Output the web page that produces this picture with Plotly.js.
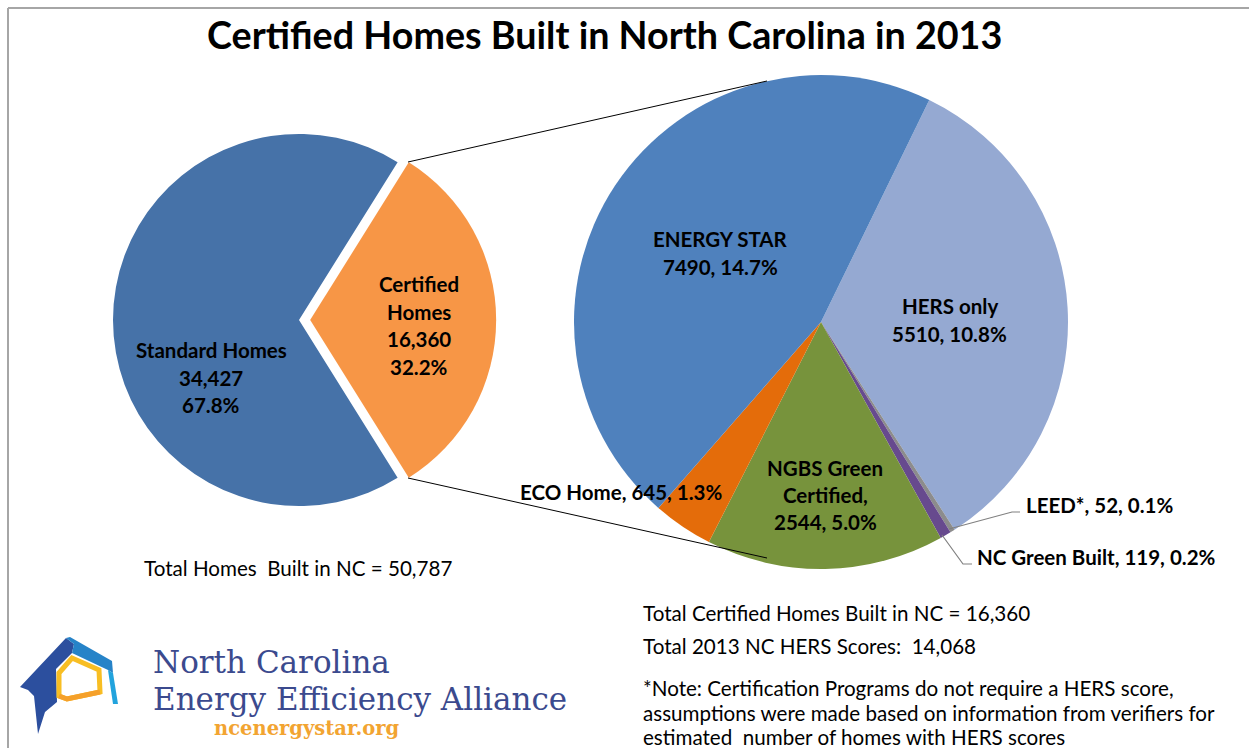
<!DOCTYPE html>
<html>
<head>
<meta charset="utf-8">
<script src="https://cdn.plot.ly/plotly-3.0.1.min.js"></script>
<style>html,body{margin:0;padding:0;background:#fff;}#chart{width:1249px;height:748px;}</style>
</head>
<body>
<div id="chart"></div>
<script>
// ---- data ----
const leftLabels = ['Certified Homes', 'Standard Homes'];
const leftValues = [16360, 34427];
const leftColors = ['#F79646', '#4672A8'];
const leftLines = [['Certified', 'Homes'], ['Standard Homes']];

const rightLabels = ['HERS only', 'LEED*', 'NC Green Built', 'NGBS Green Certified', 'ECO Home', 'ENERGY STAR'];
const rightValues = [5510, 52, 119, 2544, 645, 7490];
const rightColors = ['#95A9D2', '#8C8C8C', '#674A8E', '#77933C', '#E46C0A', '#4F81BD'];

const titleText = 'Certified Homes Built in North Carolina in 2013';
const totalAll = leftValues.reduce((a, b) => a + b, 0);
const totalCert = rightValues.reduce((a, b) => a + b, 0);
const hersScores = 14068;
const noteLines = [
  '*Note: Certification Programs do not require a HERS score,',
  'assumptions were made based on information from verifiers for',
  'estimated  number of homes with HERS scores'
];

// ---- helpers ----
const W = 1249, H = 748;
const px = x => x / W;
const py = y => 1 - y / H;
const fmt = v => v.toLocaleString('en-US');
const pct = v => (v / totalAll * 100).toFixed(1) + '%';
const FONT = 'Lato, "Open Sans", sans-serif';
const LBL = 20.5, REG = 20.6;

// Pie geometry (pixels)
const L = {cx: 299, cy: 320, r: 186, pull: 0.06};
const R = {cx: 821, cy: 322, r: 247};
const lHalf = L.r * (1 + L.pull);

const data = [
  {
    type: 'pie', labels: leftLabels, values: leftValues, sort: false,
    direction: 'clockwise', rotation: 90 - (leftValues[0] / totalAll) * 180,
    pull: [L.pull, 0], textinfo: 'none', hoverinfo: 'skip',
    marker: {colors: leftColors, line: {width: 0}},
    domain: {x: [px(L.cx - lHalf), px(L.cx + lHalf)], y: [py(L.cy + lHalf), py(L.cy - lHalf)]},
    showlegend: false
  },
  {
    type: 'pie', labels: rightLabels, values: rightValues, sort: false,
    direction: 'clockwise', rotation: 26,
    textinfo: 'none', hoverinfo: 'skip',
    marker: {colors: rightColors, line: {width: 0}},
    domain: {x: [px(R.cx - R.r), px(R.cx + R.r)], y: [py(R.cy + R.r), py(R.cy - R.r)]},
    showlegend: false
  }
];

const ann = [];
function addLines(lines, x, y0, step, size, opts) {
  lines.forEach((t, i) => {
    ann.push(Object.assign({
      text: t, x: px(x), y: py(y0 + i * step), xref: 'paper', yref: 'paper',
      xanchor: 'center', yanchor: 'middle', showarrow: false,
      font: {family: FONT, size: size, color: '#000', weight: 700}
    }, opts || {}));
  });
}
// title
addLines([titleText], 604, 35, 0, 37.7);
// left pie labels
addLines([leftLines[1][0], fmt(leftValues[1]), pct(leftValues[1])], 211, 350, 27.5, LBL);
addLines([leftLines[0][0], leftLines[0][1], fmt(leftValues[0]), pct(leftValues[0])], 419, 284, 27.5, LBL);
// right pie labels
const rv = i => rightValues[i] + ', ' + pct(rightValues[i]);
addLines([rightLabels[5], rv(5)], 720, 239, 28, LBL);
addLines([rightLabels[0], rv(0)], 950, 306, 28, LBL);
addLines(['NGBS Green', 'Certified,', rv(3)], 825, 468, 27, LBL);
addLines([rightLabels[4] + ', ' + rv(4)], 518, 492, 0, LBL, {xanchor: 'left'});
addLines([rightLabels[1] + ', ' + rv(1)], 1024, 505, 0, LBL, {xanchor: 'left'});
addLines([rightLabels[2] + ', ' + rv(2)], 975, 557, 0, LBL, {xanchor: 'left'});
// totals / notes (regular weight)
const reg = {xanchor: 'left', font: {family: FONT, size: REG, color: '#000', weight: 400}};
addLines(['Total Homes  Built in NC = ' + fmt(totalAll)], 142, 568, 0, REG, reg);
addLines(['Total Certified Homes Built in NC = ' + fmt(totalCert)], 641, 613, 0, REG, reg);
addLines(['Total 2013 NC HERS Scores:  ' + fmt(hersScores)], 641, 646, 0, REG, reg);
addLines(noteLines, 641, 688, 24.5, REG, reg);
// logo text
const serif = '"DejaVu Serif", "Liberation Serif", serif';
addLines(['North Carolina'], 151, 662, 0, 31, {xanchor: 'left', font: {family: serif, size: 31, color: '#3B4A8E', weight: 400}});
addLines(['Energy Efficiency Alliance'], 151, 699, 0, 31, {xanchor: 'left', font: {family: serif, size: 31, color: '#3B4A8E', weight: 400}});
addLines(['ncenergystar.org'], 306, 728, 0, 19.5, {font: {family: serif, size: 19.5, color: '#F2A431', weight: 700}});

// ---- shapes ----
const P = pts => 'M' + pts.map(p => px(p[0]) + ',' + py(p[1])).join(' L') + ' Z';
const lineShape = (x0, y0, x1, y1, color, w) => ({
  type: 'line', xref: 'paper', yref: 'paper', x0: px(x0), y0: py(y0), x1: px(x1), y1: py(y1),
  line: {color: color, width: w}
});
const pathOpen = pts => 'M' + pts.map(p => px(p[0]) + ',' + py(p[1])).join(' L');
const shapes = [
  // frame
  lineShape(8, 8, W, 8, '#A6A6A6', 2),
  lineShape(8, 8, 8, H, '#A6A6A6', 2),
  // connectors between pies
  lineShape(408, 162, 767, 81, '#000', 1),
  lineShape(408, 478, 767, 558, '#000', 1),
  // leader lines
  {type: 'path', xref: 'paper', yref: 'paper', path: pathOpen([[949, 529], [1012, 512], [1020, 512]]), line: {color: '#808080', width: 1.2}},
  {type: 'path', xref: 'paper', yref: 'paper', path: pathOpen([[942, 535], [963, 564], [972, 564]]), line: {color: '#808080', width: 1.2}},
  // logo icon
  {type: 'path', xref: 'paper', yref: 'paper', path: P([[20, 687], [66, 638], [74, 644], [72, 653], [56, 669], [57, 702], [45, 712], [38, 734], [34, 696], [28, 690]]), fillcolor: '#2C4F9E', line: {width: 0}},
  {type: 'path', xref: 'paper', yref: 'paper', path: P([[66, 638], [70, 637], [112, 661], [113, 673], [108, 670], [72, 653], [74, 644]]), fillcolor: '#2683C8', line: {width: 0}},
  {type: 'path', xref: 'paper', yref: 'paper', path: P([[108, 670], [113, 673], [118, 704], [113, 704]]), fillcolor: '#22A3DD', line: {width: 0}},
  {type: 'path', xref: 'paper', yref: 'paper', path: P([[59, 673], [72, 658], [99, 670], [100, 692], [67, 699], [59, 696]]), fillcolor: 'rgba(0,0,0,0)', line: {color: '#F8BE23', width: 5}},
  {type: 'path', xref: 'paper', yref: 'paper', path: pathOpen([[59, 696], [67, 699], [100, 692]]), line: {color: '#F5A02A', width: 5}}
];

const layout = {
  width: W, height: H, margin: {l: 0, r: 0, t: 0, b: 0},
  paper_bgcolor: '#fff', plot_bgcolor: '#fff',
  showlegend: false, annotations: ann, shapes: shapes
};
Plotly.newPlot('chart', data, layout, {staticPlot: true, displayModeBar: false});
</script>
</body>
</html>
